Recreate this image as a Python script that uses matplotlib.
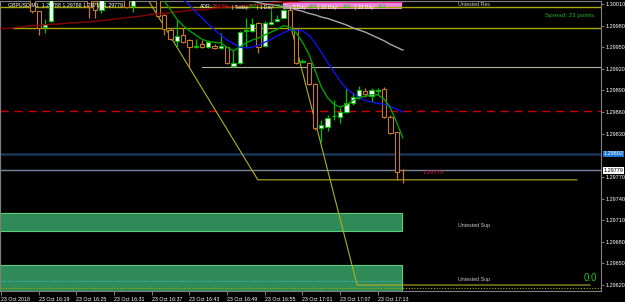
import matplotlib
matplotlib.use("Agg")
import matplotlib.pyplot as plt
from matplotlib.patches import Rectangle
import numpy as np

plt.rcParams['font.family'] = ['Liberation Sans', 'DejaVu Sans']

# GBPUSD M1, 23 Oct 2018 16:13 .. 17:17 (bar index 0..64)
opens = [1.30040, 1.30036, 1.30030, 1.30038, 1.30033, 1.30027, 1.30000, 1.29978, 1.29986, 1.30022,
         1.30030, 1.30035, 1.30028, 1.30032, 1.30024, 1.30014, 1.30002, 1.30025, 1.30031, 1.30028,
         1.30024, 1.30007, 1.30020, 1.30028, 1.30030, 1.30026, 1.29995, 1.29974, 1.29959, 1.29967,
         1.29960, 1.29951, 1.29954, 1.29950, 1.29952, 1.29949, 1.29950, 1.29924, 1.29928, 1.29973,
         1.29972, 1.29984, 1.29952, 1.29982, 1.29986, 1.29991, 1.30002, 1.29975, 1.29930, 1.29928,
         1.29899, 1.29838, 1.29839, 1.29854, 1.29853, 1.29860, 1.29873, 1.29880, 1.29889, 1.29882,
         1.29889, 1.29892, 1.29853, 1.29832, 1.29780]
highs = [1.30048, 1.30044, 1.30042, 1.30046, 1.30040, 1.30030, 1.30001, 1.29989, 1.30025, 1.30034,
         1.30040, 1.30042, 1.30036, 1.30038, 1.30028, 1.30020, 1.30030, 1.30036, 1.30040, 1.30034,
         1.30028, 1.30024, 1.30032, 1.30036, 1.30034, 1.30030, 1.29996, 1.29977, 1.29988, 1.29977,
         1.29961, 1.29961, 1.29960, 1.29960, 1.29955, 1.29970, 1.29951, 1.29946, 1.29972, 1.29991,
         1.29991, 1.29985, 1.29986, 1.30002, 1.29995, 1.30004, 1.30013, 1.29977, 1.29934, 1.29930,
         1.29900, 1.29849, 1.29856, 1.29877, 1.29867, 1.29893, 1.29888, 1.29896, 1.29893, 1.29893,
         1.29893, 1.29895, 1.29856, 1.29833, 1.29781]
lows = [1.30032, 1.30028, 1.30026, 1.30030, 1.30024, 1.29998, 1.29967, 1.29970, 1.29985, 1.30019,
        1.30024, 1.30026, 1.30020, 1.30022, 1.29991, 1.29991, 1.29998, 1.30020, 1.30024, 1.30021,
        1.30005, 1.29999, 1.30018, 1.30022, 1.30020, 1.29992, 1.29967, 1.29960, 1.29950, 1.29956,
        1.29921, 1.29949, 1.29949, 1.29949, 1.29947, 1.29948, 1.29927, 1.29922, 1.29927, 1.29950,
        1.29971, 1.29942, 1.29950, 1.29981, 1.29985, 1.29990, 1.29974, 1.29927, 1.29928, 1.29898,
        1.29835, 1.29818, 1.29834, 1.29849, 1.29845, 1.29859, 1.29870, 1.29878, 1.29881, 1.29874,
        1.29884, 1.29852, 1.29830, 1.29766, 1.29762]
closes = [1.30036, 1.30030, 1.30038, 1.30033, 1.30027, 1.30000, 1.29977, 1.29982, 1.30022, 1.30030,
          1.30035, 1.30028, 1.30032, 1.30024, 1.30006, 1.30002, 1.30025, 1.30031, 1.30028, 1.30024,
          1.30006, 1.30020, 1.30028, 1.30030, 1.30026, 1.29993, 1.29975, 1.29961, 1.29966, 1.29957,
          1.29950, 1.29952, 1.29950, 1.29957, 1.29949, 1.29952, 1.29928, 1.29928, 1.29971, 1.29974,
          1.29982, 1.29950, 1.29984, 1.29985, 1.29989, 1.30002, 1.29975, 1.29928, 1.29931, 1.29899,
          1.29838, 1.29842, 1.29852, 1.29855, 1.29860, 1.29873, 1.29881, 1.29891, 1.29885, 1.29891,
          1.29890, 1.29853, 1.29831, 1.29777, 1.29779]

# moving averages (start index, values)
ma_red_start = 0
ma_red = [1.29976, 1.29976, 1.29977, 1.29978, 1.29979, 1.29980, 1.29980, 1.29981, 1.29982, 1.29982,
          1.29983, 1.29984, 1.29984, 1.29985, 1.29985, 1.29986, 1.29987, 1.29988, 1.29989, 1.29990,
          1.29991, 1.29992, 1.29993, 1.29994, 1.29996, 1.29996, 1.29997, 1.29998, 1.29999, 1.30000,
          1.30001, 1.30002, 1.30002, 1.30003, 1.30004, 1.30005, 1.30006, 1.30006, 1.30007, 1.30008,
          1.30009, 1.30009, 1.30010, 1.30011, 1.30012, 1.30013, 1.30014, 1.30014, 1.30015, 1.30016,
          1.30017]
ma_green_start = 25
ma_green = [1.30023, 1.30014, 1.30002, 1.29989, 1.29980, 1.29973, 1.29967, 1.29961, 1.29958, 1.29957,
            1.29956, 1.29950, 1.29945, 1.29950, 1.29956, 1.29960, 1.29963, 1.29967, 1.29971, 1.29975,
            1.29980, 1.29978, 1.29970, 1.29957, 1.29941, 1.29918, 1.29895, 1.29880, 1.29871, 1.29867,
            1.29870, 1.29876, 1.29881, 1.29882, 1.29884, 1.29884, 1.29878, 1.29866, 1.29846, 1.29824]
ma_blue_start = 27
ma_blue = [1.30030, 1.30023, 1.30016, 1.30009, 1.29999, 1.29991, 1.29982, 1.29974, 1.29967, 1.29960,
           1.29955, 1.29950, 1.29949, 1.29950, 1.29953, 1.29957, 1.29961, 1.29966, 1.29970, 1.29974,
           1.29974, 1.29973, 1.29967, 1.29956, 1.29943, 1.29929, 1.29916, 1.29903, 1.29893, 1.29886,
           1.29881, 1.29876, 1.29874, 1.29872, 1.29871, 1.29868, 1.29864, 1.29860]
ma_silver_start = 38
ma_silver = [1.30017, 1.30015, 1.30014, 1.30012, 1.30010, 1.30009, 1.30008, 1.30006, 1.30005, 1.30002,
             1.30000, 1.29997, 1.29995, 1.29992, 1.29990, 1.29987, 1.29984, 1.29981, 1.29977, 1.29974,
             1.29971, 1.29967, 1.29963, 1.29959, 1.29954, 1.29950, 1.29946]

# drawn objects
res_level = 1.30006
level_a = 1.29977
level_b = 1.29923
red_dash_level = 1.29862
bid_level = 1.29779
ask_level = 1.29802
dotted_bottom = 1.29616
cyan_dotted = 1.29626
zigzag1 = [(23.4, 1.30016), (40.9, 1.29766), (91.7, 1.29766)]
zigzag2 = [(46.2, 1.29977), (56.7, 1.29620), (93.8, 1.29620)]
sup_zone1 = (1.29695, 1.29720)
sup_zone2 = (1.29600, 1.29648)
zone_end = 63.85
adr_box = (44.9, 1.30003, 1.30030)

time_ticks = [0, 6, 12, 18, 24, 30, 36, 42, 48, 54, 60]
time_labels = ["23 Oct 2018", "23 Oct 16:19", "23 Oct 16:25", "23 Oct 16:31", "23 Oct 16:37",
               "23 Oct 16:43", "23 Oct 16:49", "23 Oct 16:55", "23 Oct 17:01", "23 Oct 17:07",
               "23 Oct 17:13"]
price_ticks = [1.30010, 1.29980, 1.29950, 1.29920, 1.29890, 1.29860, 1.29830,
               1.29770, 1.29740, 1.29710, 1.29680, 1.29650, 1.29620]

W, H = 625, 302
fig = plt.figure(figsize=(W / 100, H / 100), dpi=100, facecolor='black')
ax = fig.add_axes([0, 11 / H, 601 / W, 290 / H])
ax.set_facecolor('black')
ax.set_xlim(-0.16, 95.54)
ax.set_ylim(1.296117, 1.300142)

YEL = '#a8a800'

# zones
for lo, hi in (sup_zone1, sup_zone2):
    ax.add_patch(Rectangle((-1, lo), zone_end + 1, hi - lo, facecolor='#2e8b57',
                           edgecolor='#5ccf7e', lw=0.8, zorder=1))
ax.plot([-1, zone_end], [cyan_dotted] * 2, color='#40c0e0', lw=0.8, ls=(0, (1, 1.5)), zorder=2)
ax.add_patch(Rectangle((adr_box[0], adr_box[1]), zone_end - adr_box[0], adr_box[2] - adr_box[1],
                       facecolor='#ee88e8', edgecolor='none', zorder=1))
ax.plot([adr_box[0], zone_end], [1.30013] * 2, color='#e02070', lw=0.8, zorder=2)

# horizontal levels
ax.axhline(res_level, color=YEL, lw=1, zorder=2)
ax.plot([1.9, 96], [level_a] * 2, color=YEL, lw=1, zorder=2)
ax.plot([32, 96], [level_b] * 2, color='#b0b0a0', lw=0.8, zorder=2)
ax.axhline(red_dash_level, color='#c80000', lw=1, ls=(0, (6, 4)), zorder=2)
ax.axhline(ask_level, color='#1c3658', lw=1.8, zorder=2)
ax.axhline(bid_level, color='#7888a0', lw=1, zorder=2)
ax.axhline(dotted_bottom, color=YEL, lw=0.8, ls=(0, (1, 1.5)), zorder=2)
for zz in (zigzag1, zigzag2):
    xs, ys = zip(*zz)
    ax.plot(xs, ys, color='#b0b020', lw=0.8, zorder=2)

# moving averages
for start, vals, col in ((ma_red_start, ma_red, '#8b0000'), (ma_silver_start, ma_silver, '#a8a8a8'),
                         (ma_blue_start, ma_blue, '#1010f0'), (ma_green_start, ma_green, '#00a000')):
    ax.plot(np.arange(start, start + len(vals)), vals, color=col, lw=1, zorder=5)

# candles
o, hgh, low, c = map(np.array, (opens, highs, lows, closes))
idx = np.arange(len(o))
up = c >= o
col = np.where(up, '#00c000', '#c8782a')
ax.vlines(idx, low, hgh, colors=col, lw=0.9, zorder=3)
ax.bar(idx, np.abs(c - o), bottom=np.minimum(o, c), width=0.68,
       color=np.where(up, 'white', 'black'), edgecolor=col, linewidth=0.8, zorder=4)

# axes
for s in ax.spines.values():
    s.set_color('#808080')
    s.set_linewidth(0.8)
ax.yaxis.tick_right()
ax.set_yticks(price_ticks)
ax.set_yticklabels([f"{p:.5f}" for p in price_ticks])
ax.tick_params(axis='y', colors='#909090', labelcolor='white', labelsize=4, length=2, pad=1, width=0.6)
ax.set_xticks(time_ticks)
ax.set_xticklabels(time_labels)
ax.tick_params(axis='x', colors='#909090', labelcolor='white', labelsize=3.8, length=3, pad=1, width=0.6)
for lab in ax.get_xticklabels():
    lab.set_ha('left')

ytr = ax.get_yaxis_transform()
ax.text(1.004, ask_level, "1.29802", transform=ytr, color='white', fontsize=4, va='center', ha='left',
        bbox=dict(facecolor='#1e78d8', edgecolor='none', pad=0.6), clip_on=False)
ax.text(1.004, bid_level, "1.29779", transform=ytr, color='black', fontsize=4, va='center', ha='left',
        bbox=dict(facecolor='white', edgecolor='none', pad=0.6), clip_on=False)


def px(x, y, s, **kw):
    fig.text(x / W, 1 - y / H, s, va='center', **kw)


px(8, 4.5, "GBPUSD,M1  1.29788 1.29788 1.29758 1.29779", color='white', fontsize=3.8)
adr = [(200, "ADR:", 'white'), (213, "153.5%", '#e02020'), (232, "| Today:", 'white'),
       (249, "160", '#20c020'), (257, "| 1 Day:", 'white'), (276, "123", '#20c020'),
       (290, "| 5 Day:", 'white'), (309, "105", '#20c020'), (318, "| 10 Day:", 'white'),
       (343, "100", '#20c020'), (355, "| 20 Day:", 'white'), (378, "103", '#20c020')]
for x, s, colr in adr:
    px(x, 7, s, color=colr, fontsize=3.6)
px(458, 4.5, "Untested Res", color='#c8c8c8', fontsize=3.8)
px(458, 225, "Untested Sup", color='#c8c8c8', fontsize=3.8)
px(458, 280, "Untested Sup", color='#c8c8c8', fontsize=3.8)
px(545, 16, "Spread: 23 points.", color='#20b020', fontsize=4.5)
px(584, 278, "0.0", color='#20c020', fontsize=7)
px(423, 173, "1.29779", color='#c81e46', fontsize=4.2)

fig.savefig("out.png", dpi=100, facecolor='black')
